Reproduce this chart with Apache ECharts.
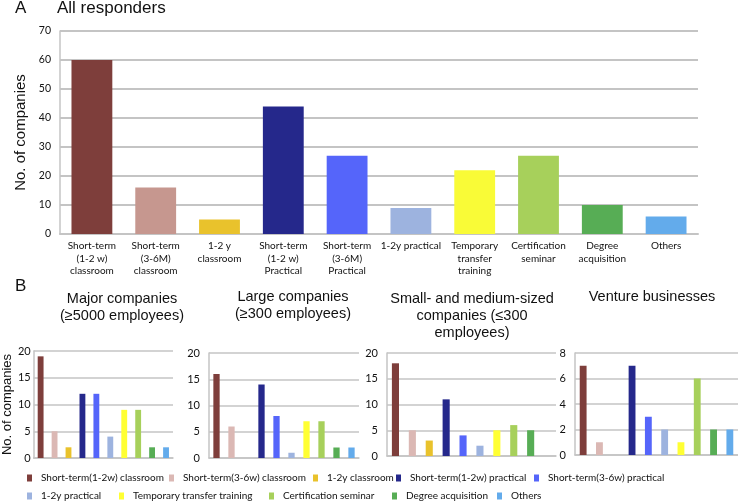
<!DOCTYPE html>
<html>
<head>
<meta charset="utf-8">
<script src="https://cdn.jsdelivr.net/npm/echarts@6/dist/echarts.min.js"></script>
<style>
html,body{margin:0;padding:0;background:#fff;}
#chart{width:738px;height:501px;}
</style>
</head>
<body>
<div id="chart"></div>
<script>
// ---- Data ----
var topCategories = [
  "Short-term\n(1-2 w)\nclassroom",
  "Short-term\n(3-6M)\nclassroom",
  "1-2 y\nclassroom",
  "Short-term\n(1-2 w)\nPractical",
  "Short-term\n(3-6M)\nPractical",
  "1-2y practical",
  "Temporary\ntransfer\ntraining",
  "Certification\nseminar",
  "Degree\nacquisition",
  "Others"
];
var allResponders = [60, 16, 5, 44, 27, 9, 22, 27, 10, 6];

var legendNames = [
  "Short-term(1-2w) classroom",
  "Short-term(3-6w) classroom",
  "1-2y classroom",
  "Short-term(1-2w) practical",
  "Short-term(3-6w) practical",
  "1-2y practical",
  "Temporary transfer training",
  "Certification seminar",
  "Degree acquisition",
  "Others"
];
var majorCompanies = [19, 5, 2, 12, 12, 4, 9, 9, 2, 2];
var largeCompanies = [16, 6, 0, 14, 8, 1, 7, 7, 2, 2];
var smeCompanies   = [18, 5, 3, 11, 4, 2, 5, 6, 5, 0];
var ventureBusinesses = [7, 1, 0, 7, 3, 2, 1, 6, 2, 2];

var panelTitles = [
  "Major companies\n(\u22655000 employees)",
  "Large companies\n(\u2265300 employees)",
  "Small- and medium-sized\ncompanies (\u2264300\nemployees)",
  "Venture businesses"
];
var panelMax = [20, 20, 20, 8];
var panelInterval = [5, 5, 5, 2];
var topMax = 70, topInterval = 10;

// ---- Styles ----
var topColors = ["#7e3e3b", "#c6978f", "#e9c22c", "#25288b", "#5565fa", "#9db3df", "#f9fb37", "#a7d05b", "#57ad55", "#63abeb"];
var bottomColors = ["#7e3e3b", "#dbb8b4", "#e9c22c", "#25288b", "#5565fa", "#9db3df", "#ffff33", "#a7d05b", "#57ad55", "#63abeb"];
var gridColor = "#c4c4c4";
var sans = "Liberation Sans";
var calib = "Lato";

var panelGrids = [
  {left: 30, top: 351, width: 143, height: 107},
  {left: 209, top: 353, width: 150, height: 105},
  {left: 387, top: 353, width: 169, height: 103},
  {left: 575, top: 353, width: 164, height: 102}
];
var panelTitlePos = [[122, 299], [293, 297], [472, 299], [652, 297]];
var panelData = [majorCompanies, largeCompanies, smeCompanies, ventureBusinesses];

var legendPos = [
  [27, 473], [169, 473], [313, 473], [396, 473], [534, 473],
  [27, 491], [119, 491], [269, 491], [392, 491], [497, 491]
];

var grids = [{left: 60, top: 31, width: 638, height: 203}];
var xAxes = [{
  type: 'category', gridIndex: 0, data: topCategories,
  axisTick: {show: false},
  axisLine: {lineStyle: {color: gridColor, width: 2}},
  axisLabel: {interval: 0, fontFamily: calib, fontSize: 10, lineHeight: 12.5, color: '#111', margin: 6}
}];
var yAxes = [{
  type: 'value', gridIndex: 0, min: 0, max: topMax, interval: topInterval,
  name: 'No. of companies', nameLocation: 'middle', nameGap: 23,
  nameTextStyle: {fontFamily: sans, fontSize: 15, color: '#111'},
  axisLine: {show: true, lineStyle: {color: gridColor, width: 1.5}},
  axisTick: {show: false},
  splitLine: {lineStyle: {color: gridColor, width: 2}},
  axisLabel: {fontFamily: calib, fontSize: 10.5, color: '#111', margin: 9}
}];
var series = [{
  type: 'bar', xAxisIndex: 0, yAxisIndex: 0, barWidth: '64%',
  data: allResponders.map(function (v, i) {
    return {value: v, itemStyle: {color: topColors[i]}};
  })
}];

panelGrids.forEach(function (g, p) {
  grids.push(g);
  xAxes.push({
    type: 'category', gridIndex: p + 1, data: legendNames,
    axisTick: {show: false}, axisLabel: {show: false},
    axisLine: {lineStyle: {color: gridColor, width: 1.5}}
  });
  var y = {
    type: 'value', gridIndex: p + 1, min: 0, max: panelMax[p], interval: panelInterval[p],
    axisLine: {show: true, lineStyle: {color: gridColor, width: 1.5}},
    axisTick: {show: false},
    splitLine: {lineStyle: {color: gridColor, width: 1.5}},
    axisLabel: {fontFamily: calib, fontSize: 11, color: '#111', margin: p === 0 ? 3 : 9}
  };
  if (p === 0) {
    y.name = 'No. of companies';
    y.nameLocation = 'middle';
    y.nameGap = 17;
    y.nameTextStyle = {fontFamily: sans, fontSize: 13, color: '#111'};
  }
  yAxes.push(y);
  legendNames.forEach(function (name, c) {
    series.push({
      type: 'bar', name: name, xAxisIndex: p + 1, yAxisIndex: p + 1,
      stack: 'panel' + p, barWidth: '42%',
      itemStyle: {color: bottomColors[c]},
      data: panelData[p].map(function (v, i) { return i === c ? v : '-'; })
    });
  });
});

var legends = legendNames.map(function (name, i) {
  return {
    data: [name], left: legendPos[i][0], top: legendPos[i][1],
    icon: 'rect', itemWidth: 5, itemHeight: 7, padding: 0,
    selectedMode: false,
    textStyle: {fontFamily: calib, fontSize: 10, color: '#111', padding: [0, 0, 0, 4]}
  };
});

var graphics = [
  {type: 'text', x: 15, y: 8, style: {text: 'A', font: '17px "' + sans + '"', fill: '#111', textVerticalAlign: 'middle'}},
  {type: 'text', x: 57, y: 8, style: {text: 'All responders', font: '17px "' + sans + '"', fill: '#111', textVerticalAlign: 'middle'}},
  {type: 'text', x: 15, y: 286, style: {text: 'B', font: '17px "' + sans + '"', fill: '#111', textVerticalAlign: 'middle'}}
];
panelTitles.forEach(function (t, p) {
  graphics.push({
    type: 'text', x: panelTitlePos[p][0], y: panelTitlePos[p][1] - 8.5,
    style: {text: t, font: '14.5px "' + sans + '"', fill: '#111', textAlign: 'center', textVerticalAlign: 'top', lineHeight: 17}
  });
});

var chart = echarts.init(document.getElementById('chart'), null, {renderer: 'canvas'});
chart.setOption({
  animation: false,
  backgroundColor: '#fff',
  grid: grids,
  xAxis: xAxes,
  yAxis: yAxes,
  series: series,
  legend: legends,
  graphic: graphics
});
</script>
</body>
</html>
